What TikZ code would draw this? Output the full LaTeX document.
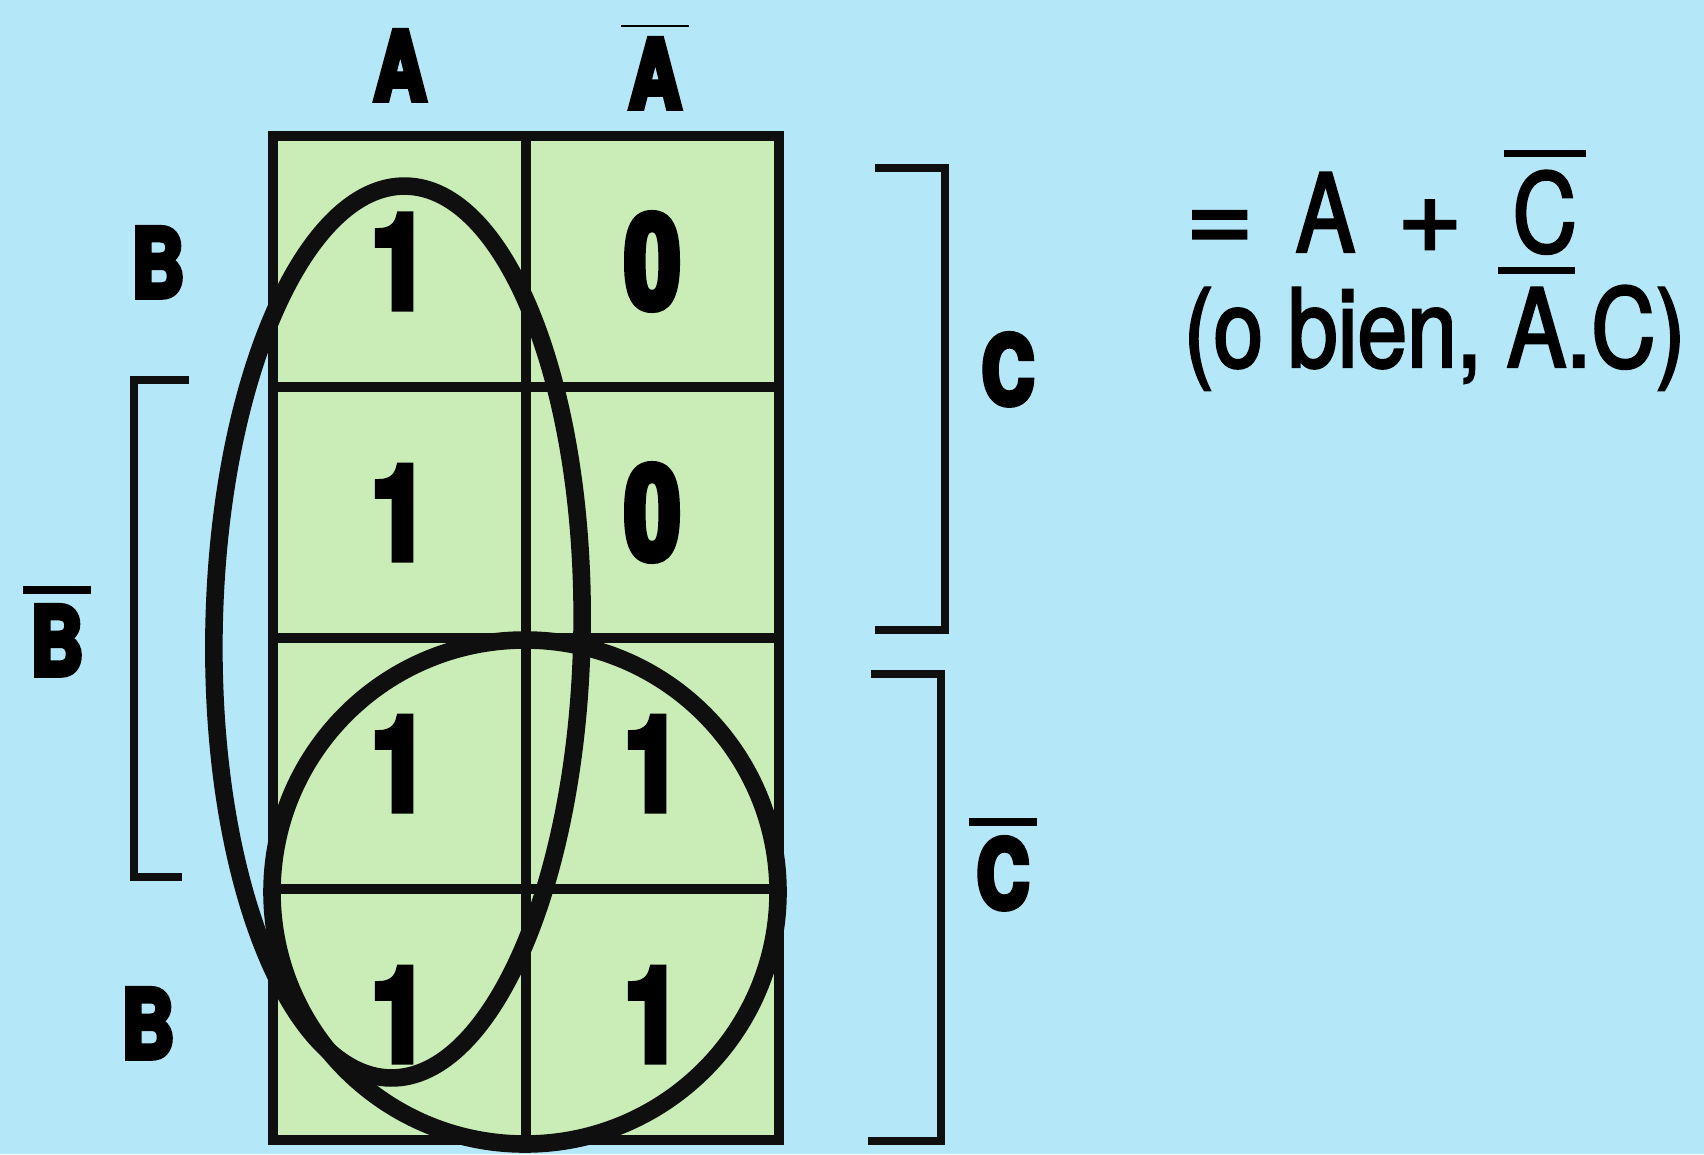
\documentclass[tikz,border=0pt]{standalone}
\usepackage{fontspec}
\setmainfont{TeX Gyre Heros}
\newfontfamily\heavyfont{texgyreheros-bold.otf}[FakeStretch=0.76]
\newfontfamily\plainfont{texgyreheros-regular.otf}[FakeStretch=0.82]
\usetikzlibrary{positioning}
\definecolor{paper}{RGB}{180,232,248}
\definecolor{cellgreen}{RGB}{202,236,182}
\definecolor{ink}{RGB}{15,15,15}
% bar over a letter: \nbar[thickness]{letter}
\newcommand{\nbar}[2][0.09em]{\setbox0\hbox{#2}\rlap{\kern-0.08em\rule[\dimexpr\ht0+0.12em\relax]{\dimexpr\wd0+0.16em\relax}{#1}}\box0}
% outline the glyphs as well, for a heavier stroke
\newcommand{\inkon}[1]{\special{pdf:literal direct 2 Tr #1 w}}
\newcommand{\inkoff}{\special{pdf:literal direct 0 Tr}}
\tikzset{
  heavy/.style={execute at begin node=\inkon{#1},execute at end node=\inkoff},
  cell/.style={draw=ink,line width=2.8pt,fill=cellgreen,minimum width=2.53cm,minimum height=2.51cm,
    inner sep=0pt,font=\heavyfont\fontsize{37}{37}\selectfont,heavy=2.2},
  lbl/.style={inner sep=0pt,anchor=base,font=\heavyfont\fontsize{27}{27}\selectfont,heavy=1.6},
  ring/.style={draw=ink,line width=5pt},
  bracket/.style={draw=ink,line width=2.3pt},
  eqn/.style={inner sep=0pt,anchor=base west,font=\plainfont\fontsize{31}{31}\selectfont,heavy=0.7},
}

\begin{document}
\begin{tikzpicture}[x=0.01cm,y=-0.01cm]
\useasboundingbox (0,0) rectangle (1704,1154);
\fill[paper] (0,0) rectangle (1704,1154);
% the map
\node[cell] (m11) at (399.5,261.5) {1};
\node[cell] (m12) at (652.5,261.5) {0};
\node[cell] (m21) at (399.5,512.5) {1};
\node[cell] (m22) at (652.5,512.5) {0};
\node[cell] (m31) at (399.5,763.5) {1};
\node[cell] (m32) at (652.5,763.5) {1};
\node[cell] (m41) at (399.5,1014.5) {1};
\node[cell] (m42) at (652.5,1014.5) {1};
% groups
\draw[ring,rotate around={-1:(398,632)}] (398,632) ellipse [x radius=184,y radius=446];
\draw[ring] (525,892) ellipse [x radius=253,y radius=252];
% brackets
\draw[bracket] (189,380) -- (134,380) -- (134,877) -- (182,877);
\draw[bracket] (875,168) -- (945,168) -- (945,630) -- (875,630);
\draw[bracket] (871,674) -- (941,674) -- (941,1141) -- (868,1141);
% labels
\node[lbl] (la) at (400,100) {A};
\node[lbl] (lna) at (655,108) {\nbar[0.025em]{A}};
\node[lbl] (lb1) at (158,297) {B};
\node[lbl] (lnb) at (57,675) {\nbar{B}};
\node[lbl] (lb2) at (148,1058) {B};
\node[lbl] (lc) at (1008,404) {C};
\node[lbl] (lnc) at (1003,908) {\nbar{C}};
% result
\node[eqn] (res) at (1185,252) {\scalebox{1.3}[1]{=}\hskip0.42cm A\hskip0.42cm \scalebox{1.25}[1]{+}\hskip0.5cm \nbar[0.07em]{C}};
\node[eqn] (alt) at (1183,367) {(o bien, \nbar[0.07em]{A}.C)};
\end{tikzpicture}
\end{document}
